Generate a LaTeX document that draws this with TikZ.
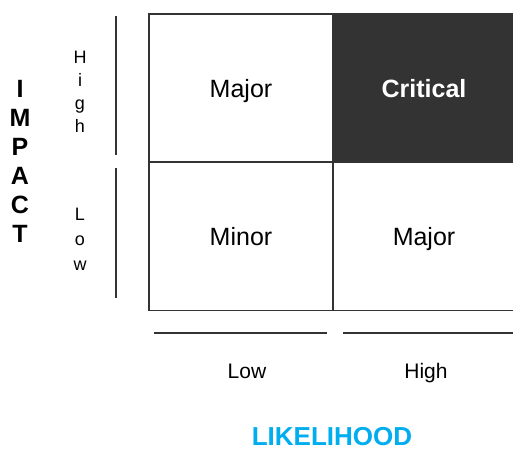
\documentclass[tikz,border=0pt]{standalone}
\usepackage{fontspec}
\setmainfont{Liberation Sans}
\definecolor{gridline}{HTML}{333333}
\definecolor{darkcell}{HTML}{333333}
\definecolor{likecyan}{HTML}{00AEEF}
\begin{document}
\begin{tikzpicture}[x=1pt,y=-1pt,
  cell/.style={draw=gridline,line width=1.2pt,minimum width=184pt,minimum height=148pt,inner sep=0pt,text height=18pt,text depth=0pt,font=\fontsize{25}{29}\selectfont},
  sideline/.style={draw=gridline,line width=1.2pt},
  axlab/.style={font=\fontsize{21}{25}\selectfont,inner sep=0pt,anchor=base}]
\useasboundingbox[fill=white] (0,0) rectangle (513,450);
% cells
\node[cell] (c11) at (241,88) {Major};
\node[cell,fill=darkcell,text=white,font=\bfseries\fontsize{25}{29}\selectfont,minimum width=182pt] (c12) at (424,88) {Critical};
\node[cell] (c21) at (241,236.5) {Minor};
\node[cell,minimum width=182pt] (c22) at (424,236.5) {Major};
% side lines
\coordinate (hA) at (116,16);
\coordinate (hB) at (116,155);
\coordinate (lA) at (116,168);
\coordinate (lB) at (116,298);
\draw[sideline] (hA) -- (hB);
\draw[sideline] (lA) -- (lB);
\coordinate (bA) at (154,333);
\coordinate (bB) at (327,333);
\coordinate (bC) at (343,333);
\coordinate (bD) at (513,333);
\draw[sideline] (bA) -- (bB);
\draw[sideline] (bC) -- (bD);
% labels
\node[font=\bfseries\fontsize{25}{29}\selectfont,align=center,inner sep=0pt] (impact) at (20,161) {I\\M\\P\\A\\C\\T};
\node[font=\fontsize{18}{23}\selectfont,align=center,inner sep=0pt] (high) at (80,92) {H\\i\\g\\h};
\node[font=\fontsize{18}{25}\selectfont,align=center,inner sep=0pt] (low) at (80,239) {L\\o\\w};
\node[axlab] (xlow) at (247,378) {Low};
\node[axlab] (xhigh) at (426,378) {High};
\node[font=\bfseries\fontsize{26}{30}\selectfont,text=likecyan,inner sep=0pt,anchor=base] (like) at (332,445) {LIKELIHOOD};
\end{tikzpicture}
\end{document}
